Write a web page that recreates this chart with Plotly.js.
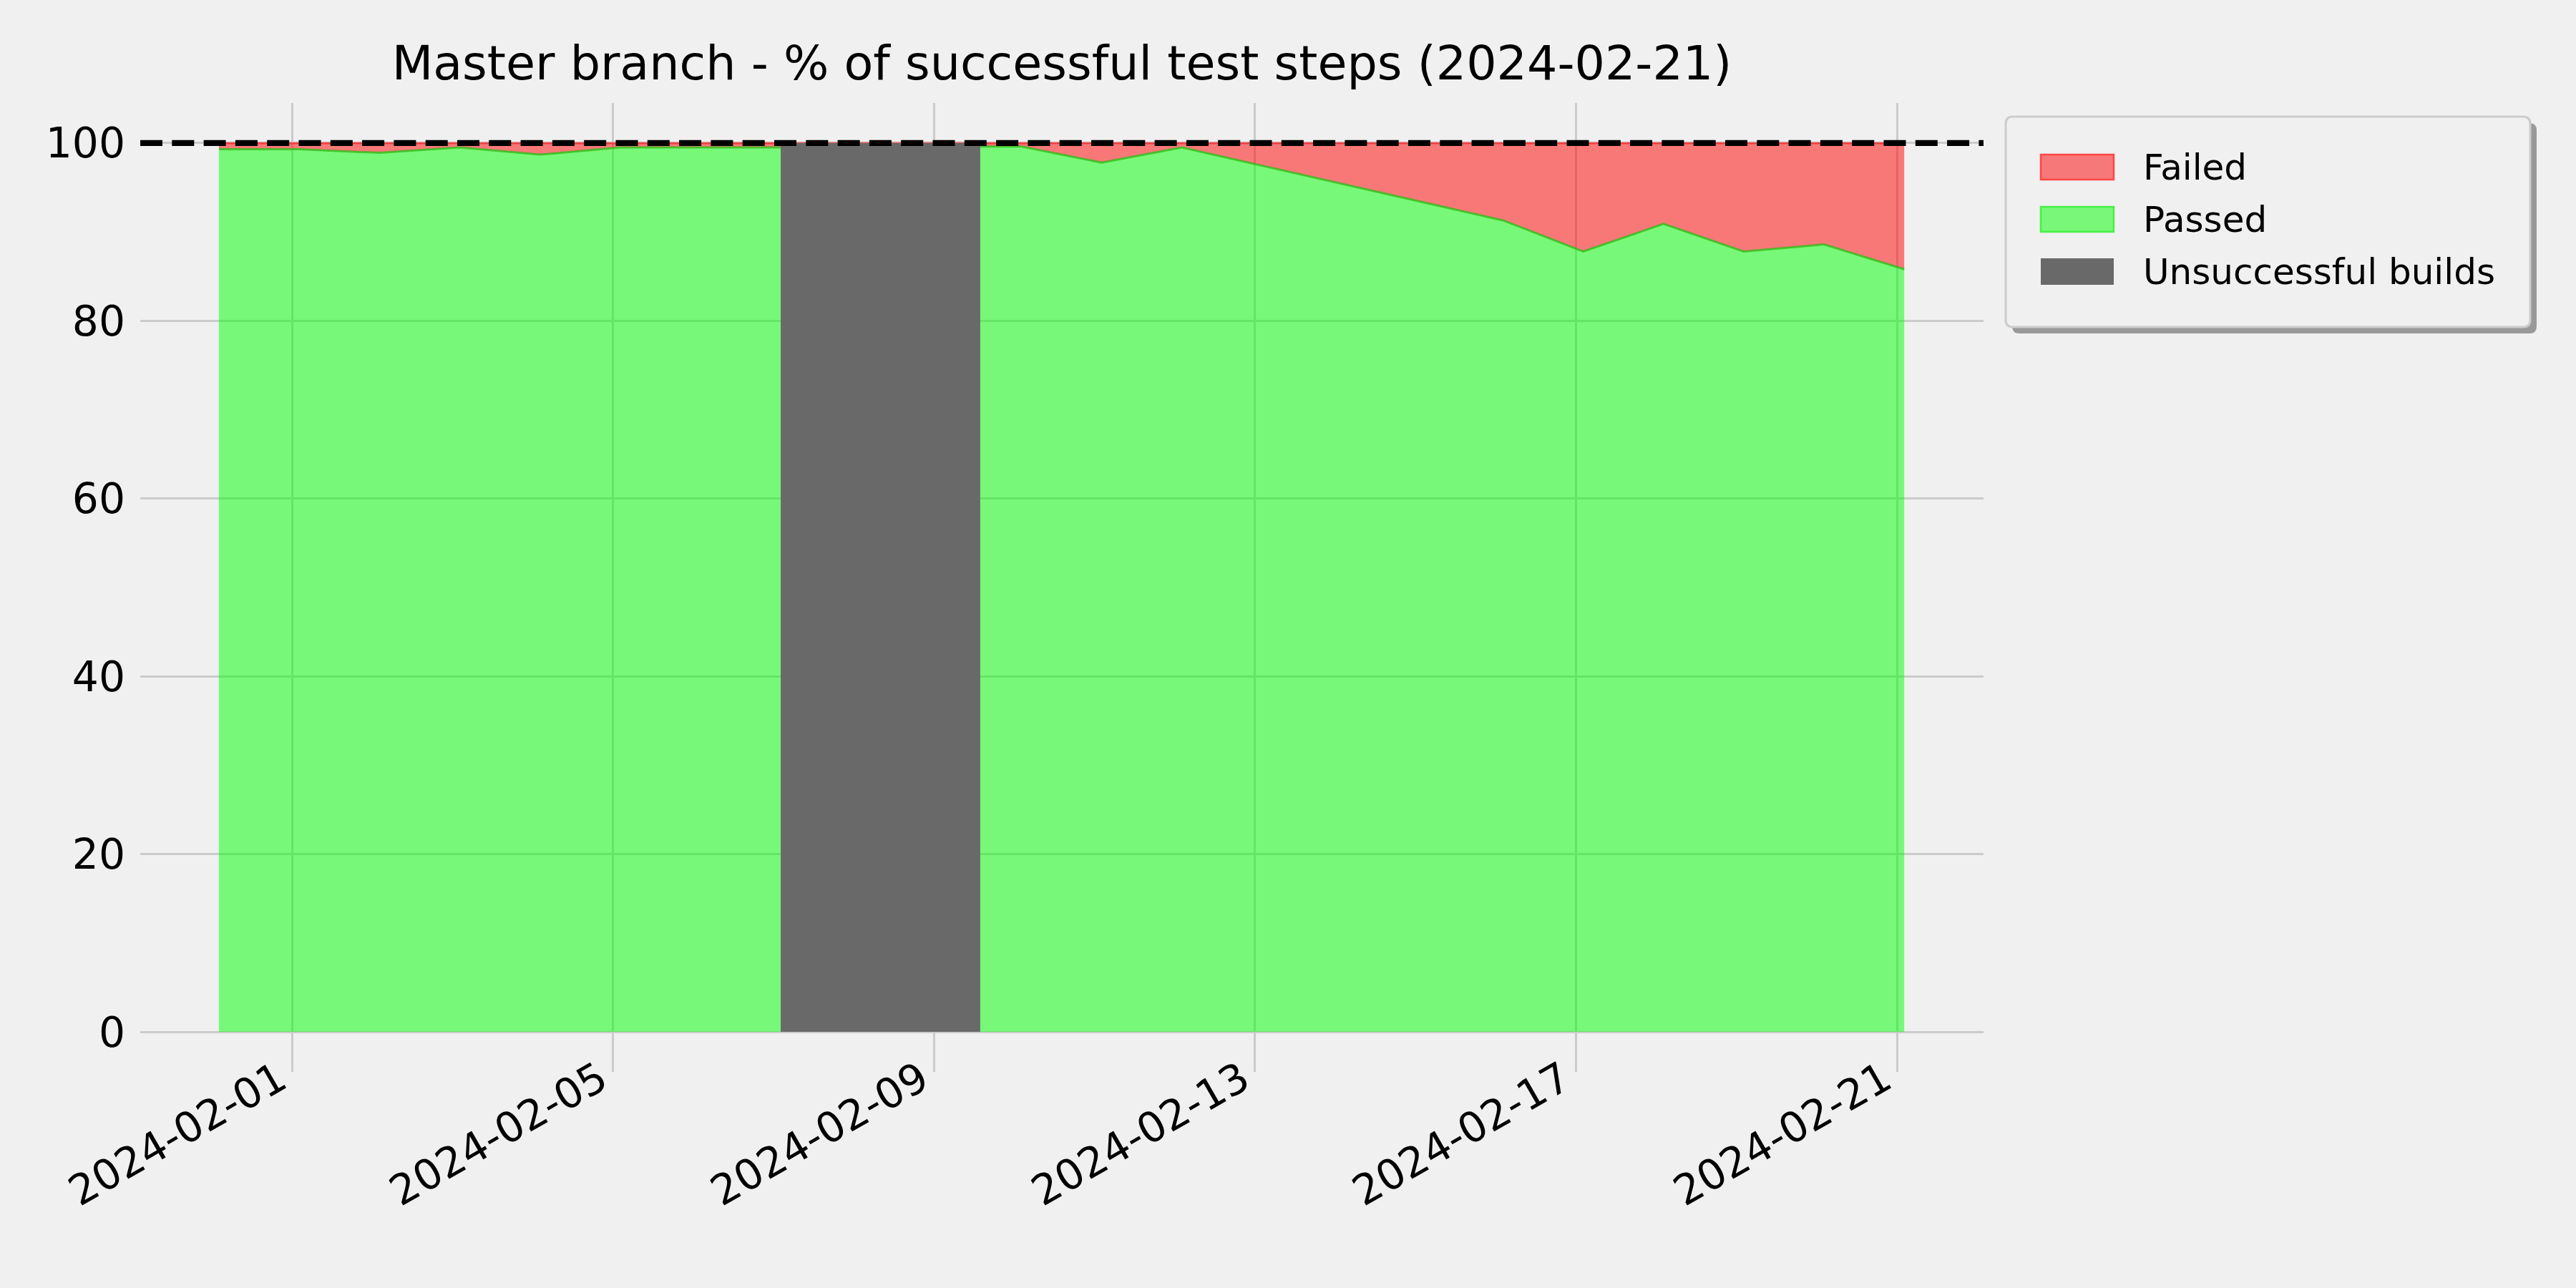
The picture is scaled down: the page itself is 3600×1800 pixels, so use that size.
<!DOCTYPE html>
<html>
<head>
<meta charset="utf-8">
<script src="https://cdn.plot.ly/plotly-3.0.1.min.js"></script>
<style>html,body{margin:0;padding:0;background:#f0f0f0;}#chart{width:3600px;height:1800px;}</style>
</head>
<body>
<div id="chart"></div>
<script>
// ---- data ----
const buildDates = [
  '2024-01-31 02:10', '2024-02-01 02:10', '2024-02-02 02:10', '2024-02-03 02:10',
  '2024-02-04 02:10', '2024-02-05 02:10', '2024-02-06 02:10', '2024-02-07 02:10',
  '2024-02-09 13:50', '2024-02-10 02:10', '2024-02-11 02:10', '2024-02-12 02:10',
  '2024-02-16 02:10', '2024-02-17 02:10', '2024-02-18 02:10', '2024-02-19 02:10',
  '2024-02-20 02:10', '2024-02-21 02:10'
];
const passedPct = [99.3, 99.3, 98.9, 99.5, 98.7, 99.5, 99.5, 99.5, 99.6, 99.6, 97.8, 99.5, 91.3, 87.8, 90.9, 87.8, 88.6, 85.8];
const failedPct = [0.7, 0.7, 1.1, 0.5, 1.3, 0.5, 0.5, 0.5, 0.4, 0.4, 2.2, 0.5, 8.7, 12.2, 9.1, 12.2, 11.4, 14.2];
const unsuccessfulDates = ['2024-02-07 02:10', '2024-02-09 13:50'];
const unsuccessfulPct = [100, 100];
const targetPct = 100;
const yTicks = [0, 20, 40, 60, 80, 100];
const titleText = 'Master branch - % of successful test steps (2024-02-21)';
const legendLabels = ['Failed', 'Passed', 'Unsuccessful builds'];

// ---- layout geometry (pixels) ----
const W = 3600, H = 1800;
const M = {l: 196, r: 828, t: 144, b: 302};
const PW = W - M.l - M.r, PH = H - M.t - M.b;
const px2x = p => (p - M.l) / PW;
const py2y = p => (H - M.b - p) / PH;

const FONT = 'DejaVu Sans, Liberation Sans, sans-serif';

const traces = [
  {
    x: buildDates, y: passedPct, name: 'Passed', type: 'scatter', mode: 'lines',
    stackgroup: 'one', fillcolor: 'rgba(0,255,0,0.5)',
    line: {color: 'rgba(40,190,20,0.75)', width: 3}, showlegend: false, hoverinfo: 'skip'
  },
  {
    x: buildDates, y: failedPct, name: 'Failed', type: 'scatter', mode: 'lines',
    stackgroup: 'one', fillcolor: 'rgba(255,0,0,0.5)',
    line: {color: 'rgba(255,0,0,0.5)', width: 3}, showlegend: false, hoverinfo: 'skip'
  },
  {
    x: unsuccessfulDates, y: unsuccessfulPct, name: 'Unsuccessful builds', type: 'scatter', mode: 'lines',
    fill: 'tozeroy', fillcolor: '#696969', line: {color: '#696969', width: 0},
    showlegend: false, hoverinfo: 'skip'
  }
];

// rounded rectangle path in paper coords
function roundRect(x0, y0, x1, y1, r) {
  const X = p => px2x(p).toFixed(6), Y = p => py2y(p).toFixed(6);
  return 'M' + X(x0 + r) + ',' + Y(y0) +
    ' L' + X(x1 - r) + ',' + Y(y0) + ' Q' + X(x1) + ',' + Y(y0) + ' ' + X(x1) + ',' + Y(y0 + r) +
    ' L' + X(x1) + ',' + Y(y1 - r) + ' Q' + X(x1) + ',' + Y(y1) + ' ' + X(x1 - r) + ',' + Y(y1) +
    ' L' + X(x0 + r) + ',' + Y(y1) + ' Q' + X(x0) + ',' + Y(y1) + ' ' + X(x0) + ',' + Y(y1 - r) +
    ' L' + X(x0) + ',' + Y(y0 + r) + ' Q' + X(x0) + ',' + Y(y0) + ' ' + X(x0 + r) + ',' + Y(y0) + ' Z';
}

const LB = {x0: 2803, y0: 163, x1: 3536, y1: 457};
const patchX0 = 2852, patchX1 = 2954, textX = 2993;
const patchRows = [[216, 251], [289, 324], [361, 398]];
const patchFill = ['rgba(247,120,120,1)', 'rgba(120,247,120,1)', '#696969'];
const patchLine = ['rgba(255,60,60,0.9)', 'rgba(60,240,60,0.9)', 'rgba(0,0,0,0)'];

const shapes = [
  {type: 'line', xref: 'paper', yref: 'y', x0: 0, x1: 1, y0: targetPct, y1: targetPct,
   line: {color: '#000000', width: 8.3, dash: '31px,13.3px'}, layer: 'above'},
  {type: 'path', xref: 'paper', yref: 'paper', path: roundRect(LB.x0 + 9, LB.y0 + 9, LB.x1 + 9, LB.y1 + 9, 10),
   fillcolor: '#999999', line: {width: 0}, layer: 'above'},
  {type: 'path', xref: 'paper', yref: 'paper', path: roundRect(LB.x0, LB.y0, LB.x1, LB.y1, 10),
   fillcolor: '#f0f0f0', line: {color: '#cccccc', width: 3}, layer: 'above'}
];
const annotations = [];
patchRows.forEach((r, i) => {
  shapes.push({type: 'rect', xref: 'paper', yref: 'paper',
    x0: px2x(patchX0), x1: px2x(patchX1), y0: py2y(r[1]), y1: py2y(r[0]),
    fillcolor: patchFill[i], line: {color: patchLine[i], width: i < 2 ? 2.5 : 0}, layer: 'above'});
  annotations.push({xref: 'paper', yref: 'paper', x: px2x(textX), y: py2y((r[0] + r[1]) / 2),
    xanchor: 'left', yanchor: 'middle', showarrow: false, text: legendLabels[i],
    font: {family: FONT, size: 50, color: '#000000'}});
});

const layout = {
  width: W, height: H,
  margin: M,
  paper_bgcolor: '#f0f0f0', plot_bgcolor: '#f0f0f0',
  font: {family: FONT, color: '#000000'},
  showlegend: false,
  title: {text: titleText, font: {family: FONT, size: 66.7, color: '#000000'},
          x: px2x(1484), xref: 'paper', xanchor: 'center', y: 1 - 88 / H, yref: 'container', yanchor: 'middle'},
  xaxis: {
    type: 'date', range: ['2024-01-30 02:38', '2024-02-22 01:53'],
    tick0: '2024-02-01', dtick: 4 * 86400000, tickformat: '%Y-%m-%d', tickangle: -30,
    showgrid: true, gridcolor: '#cbcbcb', gridwidth: 3, zeroline: false, showline: false,
    ticks: '', ticklabelstandoff: -36, ticklabelshift: -18,
    tickfont: {family: FONT, size: 58.3, color: '#000000'}
  },
  yaxis: {
    range: [-4.5, 104.5], tickvals: yTicks, ticktext: yTicks.map(String),
    showgrid: true, gridcolor: '#cbcbcb', gridwidth: 3, zeroline: false, showline: false,
    ticks: '', ticklabelstandoff: 20, tickfont: {family: FONT, size: 58.3, color: '#000000'}
  },
  shapes: shapes,
  annotations: annotations
};

Plotly.newPlot('chart', traces, layout, {staticPlot: true, displayModeBar: false});
</script>
</body>
</html>
